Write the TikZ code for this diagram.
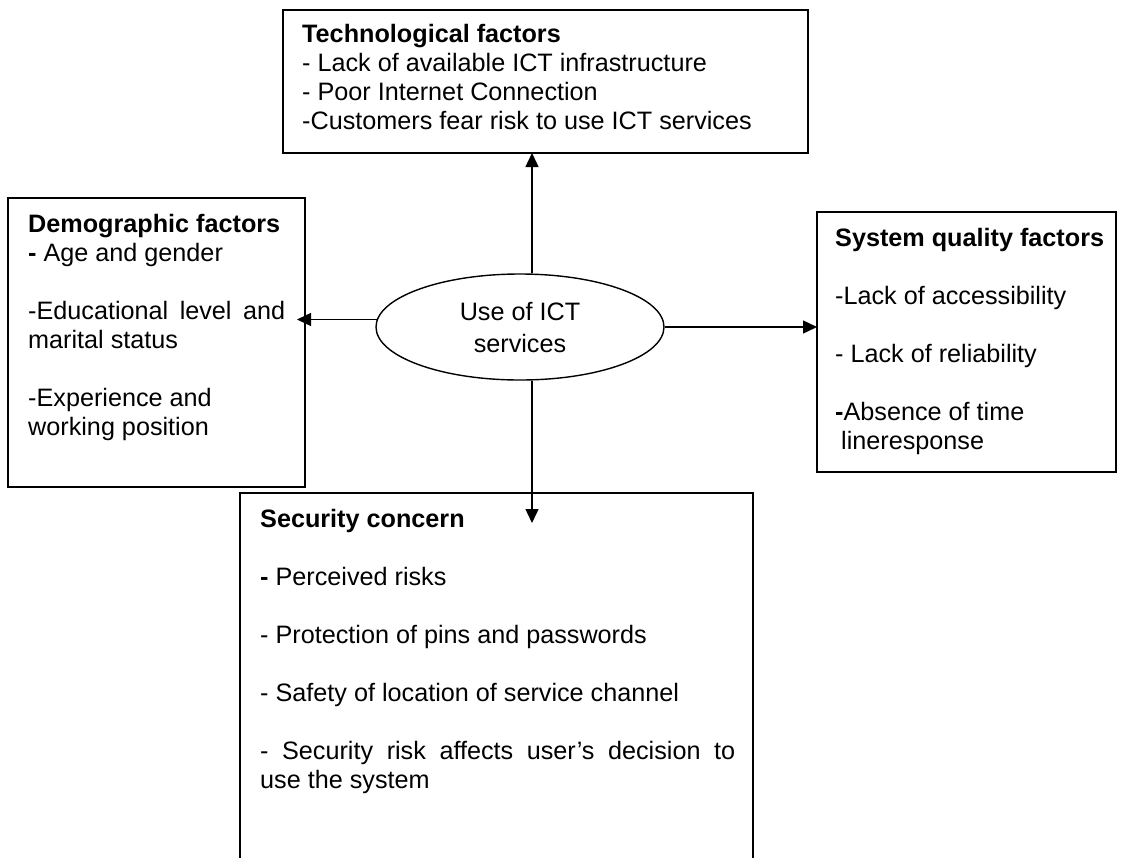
\documentclass[tikz,border=0pt]{standalone}
\usepackage{fontspec}
\setmainfont{Liberation Sans}
\usetikzlibrary{arrows.meta,shapes.geometric}
\begin{document}
\begin{tikzpicture}[x=1pt,y=-1pt,
  box/.style={draw, line width=1.8pt, rectangle, inner sep=0pt, outer sep=0pt, anchor=north west},
  txt/.style={anchor=north west, inner sep=0pt, align=left, font=\fontsize{25.2}{29}\selectfont},
  arr/.style={line width=1.4pt, -{Triangle[length=14pt,width=13pt]}}]
\useasboundingbox (0,0) rectangle (1121,857);
\clip (0,0) rectangle (1121,857);
% boxes
\node[box, minimum width=525pt, minimum height=143pt] (tech) at (283,10) {};
\node[box, minimum width=297pt, minimum height=289pt] (demo) at (8,198) {};
\node[box, minimum width=299pt, minimum height=260pt] (sys) at (817,212) {};
\node[box, minimum width=513pt, minimum height=407pt] (sec) at (240,493) {};
% texts
\node[txt] (techt) at (302,22) {\rule{0pt}{20pt}\textbf{Technological factors}\\
- Lack of available ICT infrastructure\\
- Poor Internet Connection\\
-Customers fear risk to use ICT services};
\node[txt] (demot) at (28,212) {\rule{0pt}{20pt}\textbf{Demographic factors}\\
\textbf{-} Age and gender\\[29pt]
\makebox[257pt][s]{-Educational level and}\\
marital status\\[29pt]
-Experience and\\
working position};
\node[txt] (syst) at (835,226) {\rule{0pt}{20pt}\textbf{System quality factors}\\[29pt]
-Lack of accessibility\\[29pt]
- Lack of reliability\\[29pt]
\textbf{-}Absence of time\\
\hspace{6pt}lineresponse};
\node[txt] (sect) at (260,507) {\rule{0pt}{20pt}\textbf{Security concern}\\[29pt]
\textbf{-} Perceived risks\\[29pt]
- Protection of pins and passwords\\[29pt]
- Safety of location of service channel\\[29pt]
\makebox[475pt][s]{- Security risk affects user’s decision to}\\
use the system};
% centre
\node[draw, ellipse, line width=1.4pt, minimum width=288pt, minimum height=106pt,
  inner sep=0pt, align=center, font=\fontsize{25.2}{29}\selectfont] (ict) at (520,327) {Use of ICT\\[3pt]services};
% connectors
\coordinate (vx) at (532,0);
\coordinate (downtip) at (532,523);
\coordinate (lefttip) at (297,319);
\draw[arr] (vx |- ict.north) -- (vx |- tech.south);
\draw[arr] (vx |- ict.south) -- (downtip);
\draw[arr] (ict.east) -- (ict.east -| sys.west);
\draw[arr] (ict.177) -- (ict.177 -| lefttip);
\end{tikzpicture}
\end{document}
